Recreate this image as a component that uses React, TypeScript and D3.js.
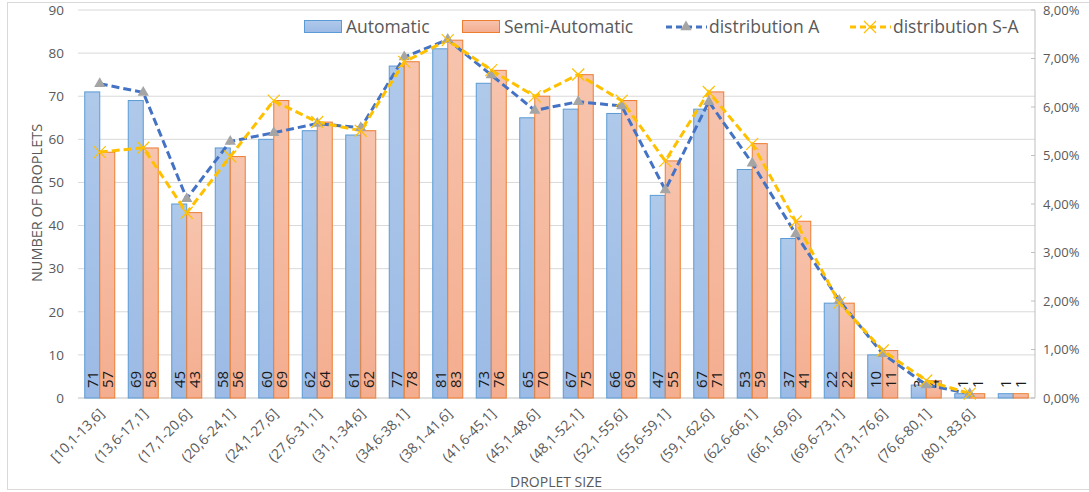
import React from "react";
import * as d3 from "d3";

const categories = [
  "[10,1-13,6]", "(13,6-17,1]", "(17,1-20,6]", "(20,6-24,1]", "(24,1-27,6]",
  "(27,6-31,1]", "(31,1-34,6]", "(34,6-38,1]", "(38,1-41,6]", "(41,6-45,1]",
  "(45,1-48,6]", "(48,1-52,1]", "(52,1-55,6]", "(55,6-59,1]", "(59,1-62,6]",
  "(62,6-66,1]", "(66,1-69,6]", "(69,6-73,1]", "(73,1-76,6]", "(76,6-80,1]",
  "(80,1-83,6]", "",
];
const automatic = [71, 69, 45, 58, 60, 62, 61, 77, 81, 73, 65, 67, 66, 47, 67, 53, 37, 22, 10, 3, 1, 1];
const semiAutomatic = [57, 58, 43, 56, 69, 64, 62, 78, 83, 76, 70, 75, 69, 55, 71, 59, 41, 22, 11, 4, 1, 1];
// percent values
const distributionA = [6.48, 6.30, 4.11, 5.29, 5.47, 5.66, 5.57, 7.03, 7.39, 6.66, 5.93, 6.11, 6.02, 4.29, 6.11, 4.84, 3.38, 2.01, 0.91, 0.27, 0.09];
const distributionSA = [5.07, 5.16, 3.82, 4.98, 6.13, 5.69, 5.51, 6.93, 7.38, 6.76, 6.22, 6.67, 6.13, 4.89, 6.31, 5.24, 3.64, 1.96, 0.98, 0.36, 0.09];
const leftTicks = [0, 10, 20, 30, 40, 50, 60, 70, 80, 90];
const rightTicks = [0, 1, 2, 3, 4, 5, 6, 7, 8];

const W = 1089, H = 492;
const plotL = 78, plotR = 1035, plotT = 10, plotB = 398;
const FONT = "'Open Sans', sans-serif";
const TXT = "#595959";

export default function App() {
  const idx = categories.map((_, i) => String(i));
  const x = d3.scaleBand().domain(idx).range([plotL, plotR]).paddingInner(0).paddingOuter(0);
  const y = d3.scaleLinear().domain([0, 90]).range([plotB, plotT]);
  const y2 = d3.scaleLinear().domain([0, 8]).range([plotB, plotT]);
  const barW = 15;
  const cx = (i: number) => (x(String(i)) as number) + x.bandwidth() / 2;

  const lineGen = d3.line<number>().x((_, i) => cx(i)).y((d) => y2(d));

  const tri = d3.symbol().type(d3.symbolTriangle).size(55)();

  const cross = (px: number, py: number, key: string) => (
    <path key={key} d={`M${px - 6},${py - 6}L${px + 6},${py + 6}M${px - 6},${py + 6}L${px + 6},${py - 6}`} stroke="#ffc000" strokeWidth={1.2} fill="none" />
  );

  return (
    <svg width={W} height={H} style={{ position: "absolute", left: 0, top: 0, background: "#fff" }} fontFamily={FONT}>
      <defs>
        <linearGradient id="gBlue" x1="0" y1="0" x2="0" y2="1">
          <stop offset="0" stopColor="#afc9ea" />
          <stop offset="1" stopColor="#9bbae5" />
        </linearGradient>
        <linearGradient id="gOrange" x1="0" y1="0" x2="0" y2="1">
          <stop offset="0" stopColor="#f7c4ad" />
          <stop offset="1" stopColor="#f4ad8f" />
        </linearGradient>
      </defs>
      <rect x={7.5} y={2.5} width={W + 10} height={487} fill="#fff" stroke="#d9d9d9" />

      {/* gridlines */}
      {leftTicks.map((t) => (
        <line key={t} x1={plotL} x2={plotR} y1={y(t)} y2={y(t)} stroke={t === 0 ? "#bfbfbf" : "#d9d9d9"} strokeWidth={1} />
      ))}
      {/* left tick labels */}
      {leftTicks.map((t) => (
        <text key={t} x={64} y={y(t)} dy="0.35em" textAnchor="end" fontSize={13.5} fill={TXT}>{t}</text>
      ))}
      {/* right axis */}
      <line x1={plotR} x2={plotR} y1={plotT} y2={plotB} stroke="#bfbfbf" />
      {rightTicks.map((t) => (
        <g key={t}>
          <line x1={plotR - 4} x2={plotR} y1={y2(t)} y2={y2(t)} stroke="#bfbfbf" />
          <text x={1043} y={y2(t)} dy="0.35em" fontSize={13} fill={TXT}>{t.toFixed(2).replace(".", ",") + "%"}</text>
        </g>
      ))}

      {/* bars */}
      {automatic.map((v, i) => (
        <rect key={"a" + i} x={cx(i) - barW} y={y(v)} width={barW} height={plotB - y(v)} fill="url(#gBlue)" stroke="#5b9bd5" strokeWidth={1} />
      ))}
      {semiAutomatic.map((v, i) => (
        <rect key={"s" + i} x={cx(i)} y={y(v)} width={barW} height={plotB - y(v)} fill="url(#gOrange)" stroke="#ed7d31" strokeWidth={1} />
      ))}

      {/* data labels */}
      {automatic.map((v, i) => (
        <text key={"la" + i} transform={`translate(${cx(i) - barW / 2},${plotB - 10}) rotate(-90)`} dy="0.36em" fontSize={15} fill="#1a1a1a">{v}</text>
      ))}
      {semiAutomatic.map((v, i) => (
        <text key={"ls" + i} transform={`translate(${cx(i) + barW / 2},${plotB - 10}) rotate(-90)`} dy="0.36em" fontSize={15} fill="#1a1a1a">{v}</text>
      ))}

      {/* lines */}
      <path d={lineGen(distributionA) || ""} fill="none" stroke="#4472c4" strokeWidth={3} strokeDasharray="8,4" />
      <path d={lineGen(distributionSA) || ""} fill="none" stroke="#ffc000" strokeWidth={3} strokeDasharray="8,4" />
      {distributionA.map((d, i) => (
        <path key={"t" + i} d={tri} transform={`translate(${cx(i)},${y2(d)})`} fill="#a5a5a5" />
      ))}
      {distributionSA.map((d, i) => cross(cx(i), y2(d), "c" + i))}

      {/* x tick labels */}
      {categories.map((c, i) => (
        <text key={"x" + i} transform={`translate(${cx(i) + 2},${plotB + 13}) rotate(-45)`} dy="0.35em" textAnchor="end" fontSize={14} fill={TXT}>{c}</text>
      ))}

      {/* axis titles */}
      <text x={556} y={482} dy="0.35em" textAnchor="middle" fontSize={14} fill={TXT}>DROPLET SIZE</text>
      <text transform={`translate(37,203) rotate(-90)`} dy="0.35em" textAnchor="middle" fontSize={14.5} fill={TXT}>NUMBER OF DROPLETS</text>

      {/* legend */}
      <g fontSize={17.5} fill={TXT}>
        <rect x={304.5} y={20.5} width={37} height={12} fill="url(#gBlue)" stroke="#5b9bd5" />
        <text x={346} y={27} dy="0.35em">Automatic</text>
        <rect x={462.5} y={20.5} width={37} height={12} fill="url(#gOrange)" stroke="#ed7d31" />
        <text x={504} y={27} dy="0.35em">Semi-Automatic</text>
        <line x1={666} x2={707} y1={27} y2={27} stroke="#4472c4" strokeWidth={3} strokeDasharray="6,4" />
        <path d={tri} transform="translate(686,27)" fill="#a5a5a5" />
        <text x={709} y={27} dy="0.35em">distribution A</text>
        <line x1={850} x2={891} y1={27} y2={27} stroke="#ffc000" strokeWidth={3} strokeDasharray="6,4" />
        {cross(870, 27, "lc")}
        <text x={893} y={27} dy="0.35em">distribution S-A</text>
      </g>
    </svg>
  );
}
